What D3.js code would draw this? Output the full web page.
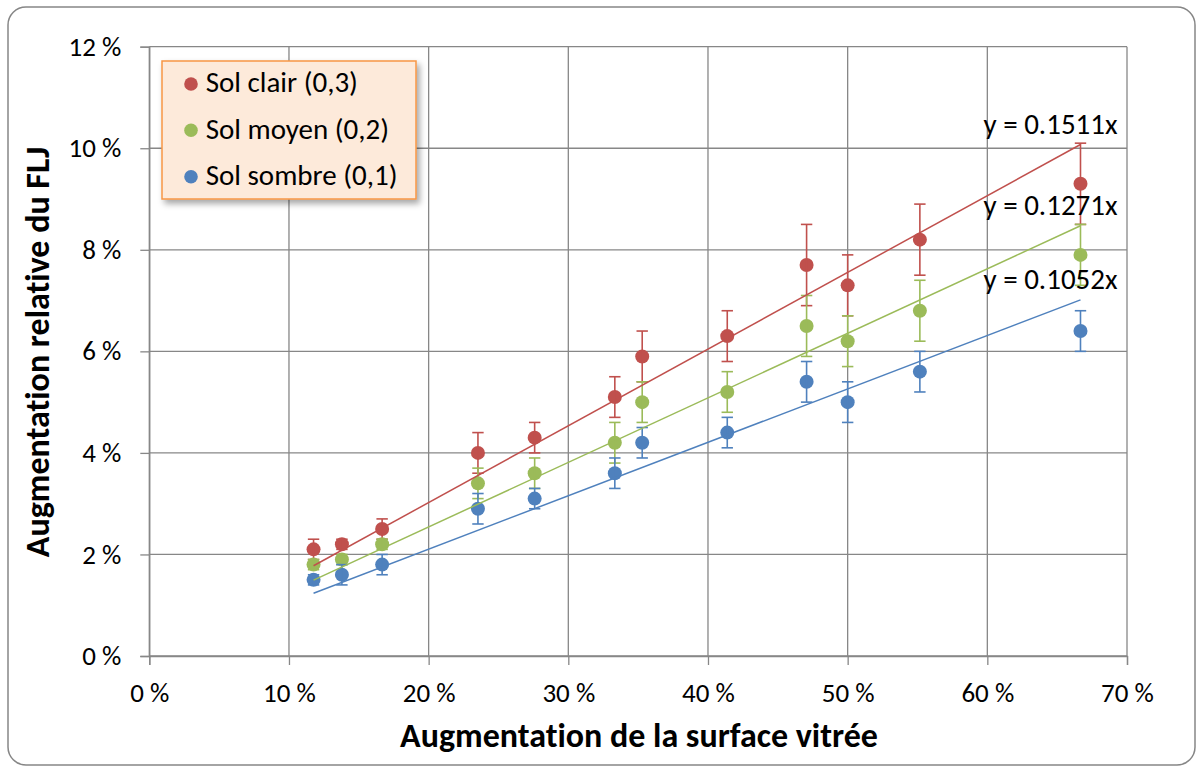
<!DOCTYPE html>
<html>
<head>
<meta charset="utf-8">
<script src="https://cdn.jsdelivr.net/npm/d3@7/dist/d3.min.js"></script>
<style>
  html, body { margin: 0; padding: 0; background: #fff; }
  svg { display: block; font-family: Carlito, Calibri, Lato, sans-serif; font-variant-ligatures: none; font-feature-settings: "liga" 0, "clig" 0; }
</style>
</head>
<body>
<svg id="chart" width="1197" height="767"></svg>
<script>
// ---- data ----
const surfaceIncrease = [11.76, 13.79, 16.67, 23.53, 27.59, 33.33, 35.29, 41.38, 47.06, 50.0, 55.17, 66.67];
const solClair   = [2.1, 2.2, 2.5, 4.0, 4.3, 5.1, 5.9, 6.3, 7.7, 7.3, 8.2, 9.3];
const solClairErr = [0.2, 0.1, 0.2, 0.4, 0.3, 0.4, 0.5, 0.5, 0.8, 0.6, 0.7, 0.8];
const solMoyen   = [1.8, 1.9, 2.2, 3.4, 3.6, 4.2, 5.0, 5.2, 6.5, 6.2, 6.8, 7.9];
const solMoyenErr = [0.1, 0.1, 0.1, 0.3, 0.3, 0.4, 0.4, 0.4, 0.6, 0.5, 0.6, 0.6];
const solSombre  = [1.5, 1.6, 1.8, 2.9, 3.1, 3.6, 4.2, 4.4, 5.4, 5.0, 5.6, 6.4];
const solSombreErr = [0.1, 0.2, 0.2, 0.3, 0.2, 0.3, 0.3, 0.3, 0.4, 0.4, 0.4, 0.4];
const seriesNames = ["Sol clair (0,3)", "Sol moyen (0,2)", "Sol sombre (0,1)"];
const trendSlopes = [0.1511, 0.1271, 0.1052];
const trendLabels = ["y = 0.1511x", "y = 0.1271x", "y = 0.1052x"];
const xTicks = [0, 10, 20, 30, 40, 50, 60, 70];
const yTicks = [0, 2, 4, 6, 8, 10, 12];
const xTitle = "Augmentation de la surface vitrée";
const yTitle = "Augmentation relative du FLJ";

const colors = ["#C0504D", "#9BBB59", "#4F81BD"];
const series = [
  { name: seriesNames[0], values: solClair, err: solClairErr, slope: trendSlopes[0], label: trendLabels[0], color: colors[0] },
  { name: seriesNames[1], values: solMoyen, err: solMoyenErr, slope: trendSlopes[1], label: trendLabels[1], color: colors[1] },
  { name: seriesNames[2], values: solSombre, err: solSombreErr, slope: trendSlopes[2], label: trendLabels[2], color: colors[2] }
];

// ---- layout ----
const svg = d3.select("#chart");
const plot = { left: 149.3, right: 1127, top: 46.7, bottom: 656 };
const x = d3.scaleLinear().domain([0, 70]).range([plot.left, plot.right]);
const y = d3.scaleLinear().domain([0, 12]).range([plot.bottom, plot.top]);
const gridColor = "#878787";

const defs = svg.append("defs");
const f = defs.append("filter").attr("id", "shadow").attr("x", "-10%").attr("y", "-10%").attr("width", "130%").attr("height", "140%");
f.append("feDropShadow").attr("dx", 3).attr("dy", 4).attr("stdDeviation", 3).attr("flood-color", "#000").attr("flood-opacity", 0.35);

// chart border
svg.append("rect")
  .attr("x", 8).attr("y", 7).attr("width", 1187).attr("height", 758)
  .attr("rx", 18).attr("ry", 18)
  .attr("fill", "#fff").attr("stroke", "#868686").attr("stroke-width", 1.5);

// gridlines
const grid = svg.append("g");
grid.selectAll("line.h").data(yTicks).join("line")
  .attr("x1", plot.left).attr("x2", plot.right)
  .attr("y1", d => y(d)).attr("y2", d => y(d))
  .attr("stroke", gridColor).attr("stroke-width", 1.3);
grid.selectAll("line.v").data(xTicks).join("line")
  .attr("y1", plot.top).attr("y2", plot.bottom)
  .attr("x1", d => x(d)).attr("x2", d => x(d))
  .attr("stroke", gridColor).attr("stroke-width", 1.3);

// axes
const fmt = d => d + " %";
const xAxis = svg.append("g").attr("transform", `translate(0,${plot.bottom})`)
  .call(d3.axisBottom(x).tickValues(xTicks).tickFormat(fmt).tickSize(9).tickPadding(18));
const yAxis = svg.append("g").attr("transform", `translate(${plot.left},0)`)
  .call(d3.axisLeft(y).tickValues(yTicks).tickFormat(fmt).tickSize(9).tickPadding(19));
[xAxis, yAxis].forEach(a => {
  a.select(".domain").attr("stroke", gridColor).attr("stroke-width", 1.3);
  a.selectAll(".tick line").attr("stroke", gridColor).attr("stroke-width", 1.3);
  a.selectAll(".tick text").attr("fill", "#000").style("font-size", "27px")
    .style("font-family", "Carlito, Calibri, Lato, sans-serif");
});

// axis titles
svg.append("text")
  .attr("x", 639).attr("y", 746.7)
  .attr("text-anchor", "middle")
  .style("font-size", "34px").style("font-weight", "bold")
  .text(xTitle);
svg.append("text")
  .attr("transform", `translate(48.7,352) rotate(-90)`)
  .attr("text-anchor", "middle")
  .style("font-size", "34px").style("font-weight", "bold")
  .text(yTitle);

// series
const gSeries = svg.append("g");
series.forEach(s => {
  const g = gSeries.append("g");
  const pts = surfaceIncrease.map((xv, i) => ({ x: xv, y: s.values[i], e: s.err[i] }));
  g.selectAll("circle").data(pts).join("circle")
    .attr("cx", d => x(d.x)).attr("cy", d => y(d.y)).attr("r", 7)
    .attr("fill", s.color);
  // error bars
  const eb = g.append("g").attr("stroke", s.color).attr("stroke-width", 1.6);
  pts.forEach(d => {
    eb.append("line").attr("x1", x(d.x)).attr("x2", x(d.x))
      .attr("y1", y(d.y - d.e)).attr("y2", y(d.y + d.e));
    [d.y - d.e, d.y + d.e].forEach(v => {
      eb.append("line").attr("x1", x(d.x) - 5.7).attr("x2", x(d.x) + 5.7)
        .attr("y1", y(v)).attr("y2", y(v));
    });
  });
});

// trendlines
const xMin = d3.min(surfaceIncrease), xMax = d3.max(surfaceIncrease);
series.forEach(s => {
  svg.append("line")
    .attr("x1", x(xMin)).attr("y1", y(s.slope * xMin))
    .attr("x2", x(xMax)).attr("y2", y(s.slope * xMax))
    .attr("stroke", s.color).attr("stroke-width", 1.5);
  svg.append("text")
    .attr("x", x(xMax) - 97).attr("y", y(s.slope * xMax) - 10.5)
    .style("font-size", "29px")
    .text(s.label);
});

// legend
const lg = svg.append("g");
lg.append("rect").attr("x", 162).attr("y", 61).attr("width", 254).attr("height", 138)
  .attr("fill", "#FDEADA").attr("stroke", "#F79646").attr("stroke-width", 1.5)
  .attr("filter", "url(#shadow)");
const legendRows = [84, 130.3, 176.7];
series.forEach((s, i) => {
  lg.append("circle").attr("cx", 191).attr("cy", legendRows[i]).attr("r", 6.8).attr("fill", s.color);
  lg.append("text").attr("x", 205.7).attr("y", legendRows[i] + 8.3)
    .style("font-size", "29px")
    .text(s.name);
});
</script>
</body>
</html>
